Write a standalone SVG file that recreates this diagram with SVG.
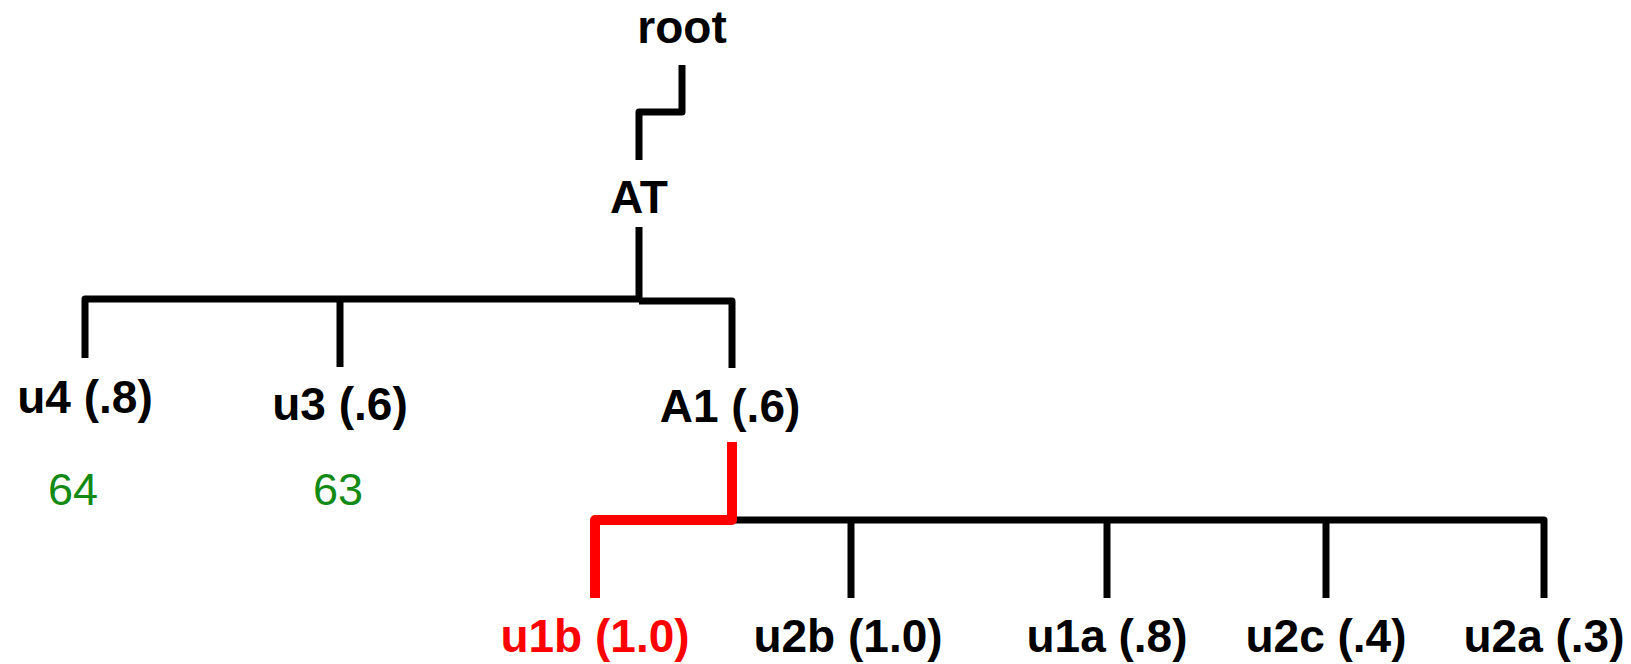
<svg xmlns="http://www.w3.org/2000/svg" width="1631" height="664" viewBox="0 0 1631 664">
<style>
.lbl{font-family:"Liberation Sans",Arial,sans-serif;font-weight:bold;font-size:46px;text-anchor:middle;fill:#000}
.red{fill:#ff0000}
.num{font-family:"Liberation Sans",Arial,sans-serif;font-size:45px;text-anchor:middle;fill:#138a13}
.edge{fill:none;stroke:#000;stroke-width:7;stroke-linejoin:round;stroke-linecap:butt}
.hl{fill:none;stroke:#ff0000;stroke-width:10;stroke-linejoin:round;stroke-linecap:butt}
</style>
<rect width="1631" height="664" fill="#fff"/>
<g id="connectors">
<path class="edge" d="M682,65 V112 H639 V160"/>
<path class="edge" d="M639,227 V300"/>
<path class="edge" d="M85,358 V299 H639"/>
<path class="edge" d="M639,301 H732 V368"/>
<path class="edge" d="M340,300 V367"/>
<path class="edge" d="M732,520 H1544 V598"/>
<path class="edge" d="M851,520 V598"/>
<path class="edge" d="M1107,520 V598"/>
<path class="edge" d="M1326,520 V598"/>
<path class="hl" d="M732,442 V520 H595 V598"/>
</g>
<g id="root"><text class="lbl" x="682" y="43">root</text></g>
<g id="AT"><text class="lbl" x="639" y="213">AT</text></g>
<g id="u4"><text class="lbl" x="85" y="413">u4 (.8)</text><text class="num" x="73" y="505">64</text></g>
<g id="u3"><text class="lbl" x="340" y="420">u3 (.6)</text><text class="num" x="338" y="505">63</text></g>
<g id="A1"><text class="lbl" x="730" y="422">A1 (.6)</text></g>
<g id="u1b"><text class="lbl red" x="595" y="652">u1b (1.0)</text></g>
<g id="u2b"><text class="lbl" x="848" y="652">u2b (1.0)</text></g>
<g id="u1a"><text class="lbl" x="1107" y="652">u1a (.8)</text></g>
<g id="u2c"><text class="lbl" x="1326" y="652">u2c (.4)</text></g>
<g id="u2a"><text class="lbl" x="1544" y="652">u2a (.3)</text></g>
</svg>
